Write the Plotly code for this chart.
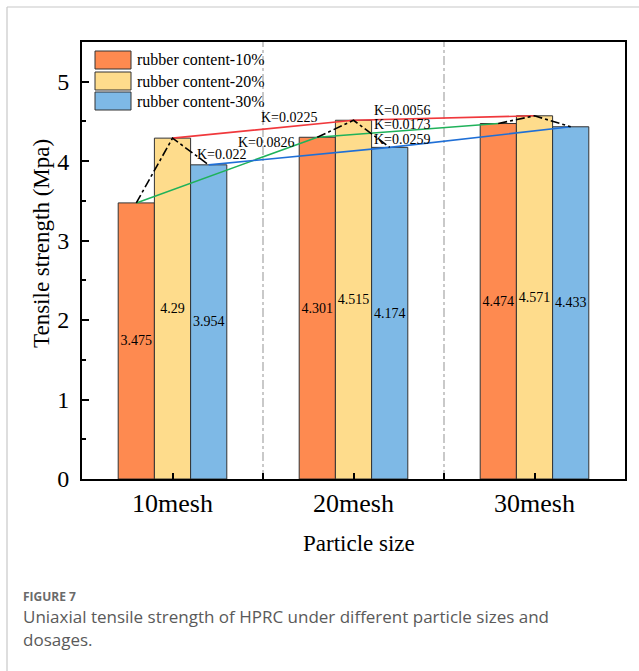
import numpy as np
import plotly.graph_objects as go

categories = ["10mesh", "20mesh", "30mesh"]
series_names = ["rubber content-10%", "rubber content-20%", "rubber content-30%"]
values_10 = [3.475, 4.301, 4.474]
values_20 = [4.29, 4.515, 4.571]
values_30 = [3.954, 4.174, 4.433]
value_labels_10 = ["3.475", "4.301", "4.474"]
value_labels_20 = ["4.29", "4.515", "4.571"]
value_labels_30 = ["3.954", "4.174", "4.433"]
k_labels = ["K=0.0225", "K=0.0826", "K=0.022", "K=0.0056", "K=0.0173", "K=0.0259"]
k_x = [0.649, 0.517, 0.273, 1.273, 1.273, 1.273]
k_y = [4.553, 4.239, 4.088, 4.64, 4.458, 4.278]

bar_colors = ["#FE8A50", "#FEDC8C", "#7EB9E6"]
trend_colors = ["#1FB25A", "#F0383C", "#1F6FD6"]  # trend for 10%, 20%, 30%
serif = "Liberation Serif, Times New Roman, serif"

xs = np.arange(len(categories))
series = [values_10, values_20, values_30]
labels = [value_labels_10, value_labels_20, value_labels_30]
offsets = [-0.2, 0.0, 0.2]

fig = go.Figure()
for name, vals, lab, col in zip(series_names, series, labels, bar_colors):
    fig.add_trace(go.Bar(
        x=xs, y=vals, name=name, text=lab,
        textposition="inside", insidetextanchor="middle", textangle=0,
        textfont=dict(family=serif, size=14, color="black"),
        marker=dict(color=col, line=dict(color="#333333", width=1)),
        showlegend=False,
    ))

# trend lines across particle sizes
for vals, off, col in zip(series, offsets, trend_colors):
    fig.add_trace(go.Scatter(x=xs + off, y=vals, mode="lines",
                             line=dict(color=col, width=1.6), showlegend=False,
                             hoverinfo="skip"))

# dash-dot line within each group
for i in range(len(categories)):
    fig.add_trace(go.Scatter(
        x=[i + o for o in offsets], y=[s[i] for s in series], mode="lines",
        line=dict(color="black", width=1.6, dash="dashdot"), showlegend=False,
        hoverinfo="skip"))

for t, x, y in zip(k_labels, k_x, k_y):
    fig.add_annotation(x=x, y=y, text=t, showarrow=False, xanchor="center",
                       yanchor="middle",
                       font=dict(family=serif, size=14, color="black"))

L, T, W, H = 82, 42, 543, 437  # plot area in px


def px(xp):
    return (xp - L) / W


def py(yp):
    return (T + H - yp) / H


shapes = []
# separators
for sx in [0.5, 1.5]:
    shapes.append(dict(type="line", xref="x", yref="paper", x0=sx, x1=sx, y0=0, y1=1,
                       line=dict(color="#B8B8B8", width=1.5, dash="dashdot"), layer="below"))
# legend boxes
box_rows = [(51, 69), (72, 90), (92, 110)]
for (y0, y1), col, name in zip(box_rows, bar_colors, series_names):
    shapes.append(dict(type="rect", xref="paper", yref="paper", x0=px(95), x1=px(131),
                       y0=py(y1), y1=py(y0), fillcolor=col,
                       line=dict(color="#333333", width=1)))
    fig.add_annotation(xref="paper", yref="paper", x=px(135), y=py((y0 + y1) / 2),
                       text=name, showarrow=False, xanchor="left", yanchor="middle",
                       font=dict(family=serif, size=16, color="black"))
# page frame
shapes.append(dict(type="line", xref="paper", yref="paper", x0=px(7), x1=px(7),
                   y0=py(7), y1=py(671), line=dict(color="#C8C8C8", width=1.2)))
shapes.append(dict(type="line", xref="paper", yref="paper", x0=px(7), x1=px(639),
                   y0=py(7), y1=py(7), line=dict(color="#C8C8C8", width=1.2)))

# axis titles
fig.add_annotation(xref="paper", yref="paper", x=px(42), y=py(244),
                   text="Tensile strength (Mpa)", textangle=-90, showarrow=False,
                   xanchor="center", yanchor="middle",
                   font=dict(family=serif, size=23, color="black"))
fig.add_annotation(xref="paper", yref="paper", x=px(359), y=py(543),
                   text="Particle size", showarrow=False,
                   xanchor="center", yanchor="middle",
                   font=dict(family=serif, size=23, color="black"))
# caption
cap_font = "Open Sans, Noto Sans, sans-serif"
fig.add_annotation(xref="paper", yref="paper", x=px(22), y=py(596), text="<b>FIGURE 7</b>",
                   showarrow=False, xanchor="left", yanchor="middle", borderpad=0,
                   font=dict(family=cap_font, size=12, color="#6A6A6A"))
fig.add_annotation(xref="paper", yref="paper", x=px(22), y=py(616),
                   text="Uniaxial tensile strength of HPRC under different particle sizes and",
                   showarrow=False, xanchor="left", yanchor="middle", borderpad=0,
                   font=dict(family=cap_font, size=17, color="#5A5A5A"))
fig.add_annotation(xref="paper", yref="paper", x=px(22), y=py(639), text="dosages.",
                   showarrow=False, xanchor="left", yanchor="middle", borderpad=0,
                   font=dict(family=cap_font, size=17, color="#5A5A5A"))

fig.update_layout(
    width=639, height=671,
    margin=dict(l=L, r=639 - L - W, t=T, b=671 - T - H),
    paper_bgcolor="white", plot_bgcolor="white",
    barmode="group", bargap=0.4, bargroupgap=0,
    uniformtext=dict(minsize=14, mode="show"),
    shapes=shapes,
    xaxis=dict(range=[-0.5, 2.5], tickvals=list(xs), ticktext=categories,
               ticks="inside", ticklen=6, tickwidth=1.5, tickcolor="black",
               minor=dict(tickvals=[0.5, 1.5], ticks="inside", ticklen=6,
                          tickcolor="black", tickwidth=1.5),
               showline=True, linecolor="black", linewidth=2, mirror=True,
               showgrid=False, zeroline=False,
               tickfont=dict(family=serif, size=26, color="black")),
    yaxis=dict(range=[0, 5.5], tickvals=[0, 1, 2, 3, 4, 5],
               ticks="inside", ticklen=7, tickwidth=1.5, tickcolor="black",
               minor=dict(dtick=0.5, ticks="inside", ticklen=4, tickcolor="black",
                          tickwidth=1.5),
               showline=True, linecolor="black", linewidth=2, mirror=True,
               showgrid=False, zeroline=False, ticklabelstandoff=6,
               tickfont=dict(family=serif, size=24, color="black")),
)

fig.write_html("out.html", config={"displayModeBar": False},
               post_script="document.body.style.margin='0';")
